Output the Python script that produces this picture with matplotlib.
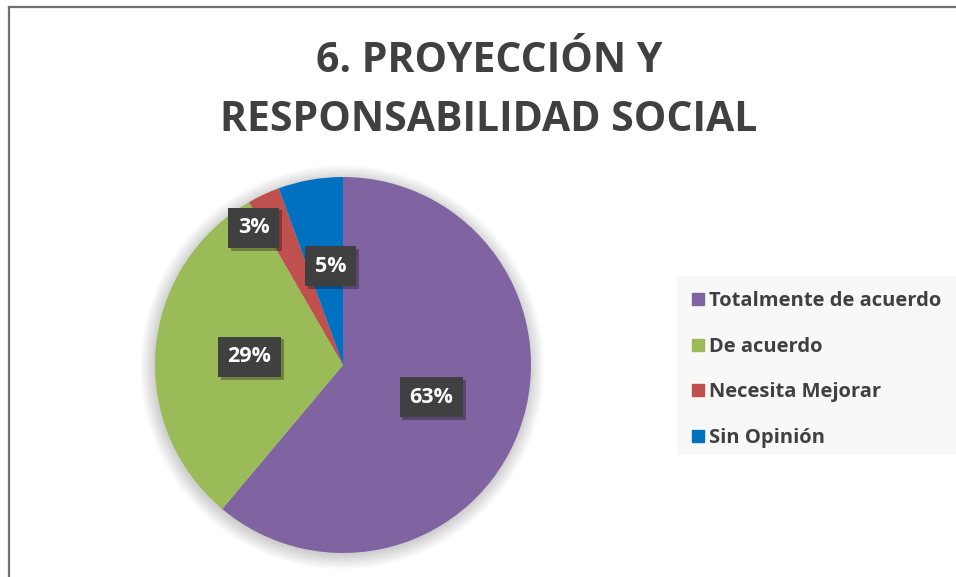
import matplotlib.pyplot as plt
import matplotlib.patheffects as pe
from matplotlib.lines import Line2D
from matplotlib.patches import Circle, Rectangle
import numpy as np

# datos de la encuesta
categorias = ['Totalmente de acuerdo', 'De acuerdo', 'Necesita Mejorar', 'Sin Opinión']
respuestas = [22, 11, 1, 2]
etiquetas = ['63%', '29%', '3%', '5%']
colores = ['#8064a2', '#9bbb59', '#c0504d', '#0070c0']

titulo = '6. PROYECCIÓN Y\nRESPONSABILIDAD SOCIAL'
gris = '#404040'
fuente = 'Open Sans'

W, H = 956, 577
fig = plt.figure(figsize=(W / 100, H / 100), dpi=100)
fig.patch.set_facecolor('white')

# marco del gráfico
fig.add_artist(Line2D([9 / W, 9 / W], [0, 1 - 7 / H], color='#707070', lw=1.6))
fig.add_artist(Line2D([9 / W, 1], [1 - 7 / H, 1 - 7 / H], color='#707070', lw=1.6))

# titulo
fig.text(489 / W, 1 - 41 / H, titulo, ha='center', va='top', fontsize=29.5,
         fontweight='bold', family=fuente, color=gris, linespacing=1.58)

# pastel
cx, cy, r = 343, H - 365, 188
ax = fig.add_axes([(cx - r) / W, (cy - r) / H, 2 * r / W, 2 * r / H])

wedges, _ = ax.pie(respuestas, colors=colores, startangle=90, counterclock=False,
                   radius=1, wedgeprops=dict(linewidth=0))
for w in wedges:
    w.set_zorder(2)
ax.set_xlim(-1, 1)
ax.set_ylim(-1, 1)
ax.axis('off')

# sombra suave
for i in range(16):
    ax.add_patch(Circle((-0.004, -0.012), 1.0 + i * 0.005, color='black',
                        alpha=0.012, lw=0, zorder=0, clip_on=False))

# etiquetas de datos
radios = [0.5, 0.5, 0.87, 0.53]
desfase = [0, 0, 8, -3]
for w, txt, rr, d in zip(wedges, etiquetas, radios, desfase):
    ang = np.deg2rad((w.theta1 + w.theta2) / 2 + d)
    t = ax.text(rr * np.cos(ang), rr * np.sin(ang), txt, ha='center', va='center',
                fontsize=15.5, fontweight='bold', family=fuente, color='white',
                zorder=5, bbox=dict(boxstyle='square,pad=0.45', fc=gris, ec='none'))
    t.get_bbox_patch().set_path_effects([
        pe.SimplePatchShadow(offset=(2, -2), shadow_rgbFace='black', alpha=0.3),
        pe.Normal()])

# leyenda
fig.add_artist(Rectangle((677 / W, 1 - 455 / H), (W - 677) / W, 179 / H,
                         transform=fig.transFigure, fc='#f8f8f8', ec='none', zorder=0))
handles = [Line2D([], [], marker='s', linestyle='none', markersize=9,
                  markerfacecolor=c, markeredgecolor=c) for c in colores]
leg = fig.legend(handles, categorias, loc='upper left',
                 bbox_to_anchor=(677 / W, 1 - 276 / H), frameon=False,
                 prop=dict(family=fuente, weight='bold', size=14.5),
                 labelcolor=gris, handlelength=0.6, handletextpad=0.25,
                 labelspacing=1.27, borderpad=0.75, borderaxespad=0)

plt.savefig('out.png', dpi=100)
